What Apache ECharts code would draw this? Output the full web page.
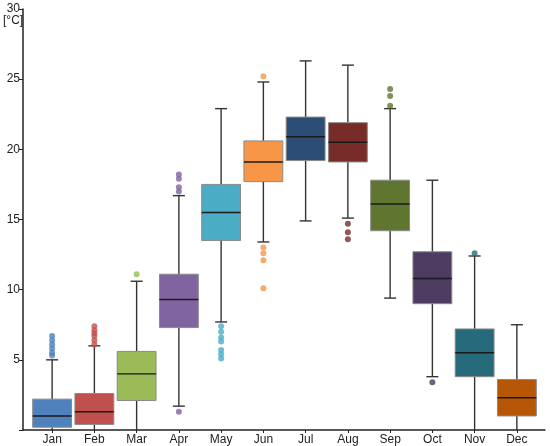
<!DOCTYPE html>
<html>
<head>
<meta charset="utf-8">
<script src="https://cdn.jsdelivr.net/npm/echarts@6/dist/echarts.min.js"></script>
<style>
html, body { margin: 0; padding: 0; background: #fff; }
#chart { width: 550px; height: 446px; }
</style>
</head>
<body>
<div id="chart"></div>
<script>
var months = ['Jan', 'Feb', 'Mar', 'Apr', 'May', 'Jun', 'Jul', 'Aug', 'Sep', 'Oct', 'Nov', 'Dec'];
var whiskerLow  = [-0.5, -0.5, -0.5, 1.7, 7.7, 13.4, 14.9, 15.1, 9.4, 3.8, -0.5, -0.5];
var q1          = [0.2, 0.4, 2.1, 7.3, 13.5, 17.7, 19.2, 19.1, 14.2, 9.0, 3.8, 1.0];
var medians     = [1.0, 1.3, 4.0, 9.3, 15.5, 19.1, 20.9, 20.5, 16.1, 10.8, 5.5, 2.3];
var q3          = [2.2, 2.6, 5.6, 11.1, 17.5, 20.6, 22.3, 21.9, 17.8, 12.7, 7.2, 3.6];
var whiskerHigh = [5.0, 6.0, 10.6, 16.7, 22.9, 24.8, 26.3, 26.0, 22.9, 17.8, 12.4, 7.5];
var outliers = [
  [0, 6.7], [0, 6.4], [0, 6.1], [0, 5.8], [0, 5.5], [0, 5.3],
  [1, 7.4], [1, 7.1], [1, 6.9], [1, 6.7], [1, 6.4], [1, 6.1],
  [2, 11.1],
  [3, 18.2], [3, 17.9], [3, 17.3], [3, 17.0], [3, 1.3],
  [4, 7.4], [4, 7.0], [4, 6.6], [4, 6.3], [4, 5.7], [4, 5.4], [4, 5.1],
  [5, 25.2], [5, 13.0], [5, 12.6], [5, 12.1], [5, 10.1],
  [7, 14.7], [7, 14.1], [7, 13.6],
  [8, 24.3], [8, 23.8], [8, 23.1],
  [9, 3.4],
  [10, 12.6]
];
var yTicks = [0, 5, 10, 15, 20, 25, 30];
var colors = ['#4f81bd', '#c0504d', '#9bbb59', '#8064a2', '#4bacc6', '#f79646',
              '#2c4d75', '#772c2a', '#5f7530', '#4d3b62', '#276a7c', '#b65708'];

var boxData = months.map(function (m, i) {
  return [i, whiskerLow[i], q1[i], medians[i], q3[i], whiskerHigh[i]];
});

var chart = echarts.init(document.getElementById('chart'));

function renderBox(params, api) {
  var i = api.value(0);
  var lo = api.coord([i, api.value(1)]);
  var b1 = api.coord([i, api.value(2)]);
  var md = api.coord([i, api.value(3)]);
  var b3 = api.coord([i, api.value(4)]);
  var hi = api.coord([i, api.value(5)]);
  var x = lo[0];
  var w = api.size([1, 0])[0] * 0.92;
  var cap = 6;
  var whisk = { stroke: '#333', lineWidth: 1.4 };
  return {
    type: 'group',
    children: [
      { type: 'line', shape: { x1: x, y1: b3[1], x2: x, y2: hi[1] }, style: whisk },
      { type: 'line', shape: { x1: x, y1: b1[1], x2: x, y2: lo[1] }, style: whisk },
      { type: 'line', shape: { x1: x - cap, y1: hi[1], x2: x + cap, y2: hi[1] }, style: whisk },
      { type: 'line', shape: { x1: x - cap, y1: lo[1], x2: x + cap, y2: lo[1] }, style: whisk },
      {
        type: 'rect',
        shape: { x: x - w / 2, y: b3[1], width: w, height: b1[1] - b3[1] },
        style: { fill: colors[params.dataIndex], stroke: '#8a8a8a', lineWidth: 1 }
      },
      { type: 'line', shape: { x1: x - w / 2, y1: md[1], x2: x + w / 2, y2: md[1] },
        style: { stroke: '#1a1a1a', lineWidth: 1.4 } }
    ]
  };
}

var option = {
  animation: false,
  textStyle: { fontFamily: 'Liberation Sans, Arial, sans-serif' },
  grid: [
    { left: 31, right: 12, top: 9, bottom: 16 },
    { left: 23, right: 5, top: 9, bottom: 16 }
  ],
  graphic: [{
    type: 'text', left: 3, top: 15,
    style: { text: '[°C]', fontSize: 12, fill: '#222', fontFamily: 'Liberation Sans, Arial, sans-serif' }
  }],
  xAxis: [{
    type: 'category',
    gridIndex: 0,
    data: months,
    axisLine: { show: false },
    axisTick: { show: true, alignWithLabel: true, length: 3, lineStyle: { color: '#222' } },
    axisLabel: { color: '#222', fontSize: 12, margin: 4 }
  }, {
    type: 'value',
    gridIndex: 1,
    min: 0, max: 1,
    axisLine: { show: true, lineStyle: { color: '#222', width: 1.5 } },
    axisTick: { show: false },
    axisLabel: { show: false },
    splitLine: { show: false }
  }],
  yAxis: [{
    type: 'value',
    gridIndex: 0,
    min: yTicks[0],
    max: yTicks[yTicks.length - 1],
    interval: 5,
    offset: 8,
    axisLine: { show: true, lineStyle: { color: '#222', width: 1.5 } },
    axisTick: { show: true, length: 4, lineStyle: { color: '#222' } },
    axisLabel: {
      color: '#222', fontSize: 12, margin: 3,
      formatter: function (v) { return v === 0 ? '' : v; }
    },
    splitLine: { show: false }
  }, {
    type: 'value',
    gridIndex: 1,
    show: false
  }],
  series: [{
    type: 'custom',
    xAxisIndex: 0,
    yAxisIndex: 0,
    clip: true,
    renderItem: renderBox,
    encode: { x: 0, y: [1, 2, 3, 4, 5] },
    data: boxData,
    z: 2
  }, {
    type: 'scatter',
    xAxisIndex: 0,
    yAxisIndex: 0,
    symbolSize: 6,
    data: outliers.map(function (p) {
      return { value: p, itemStyle: { color: colors[p[0]] } };
    }),
    z: 3
  }]
};

chart.setOption(option);
</script>
</body>
</html>
